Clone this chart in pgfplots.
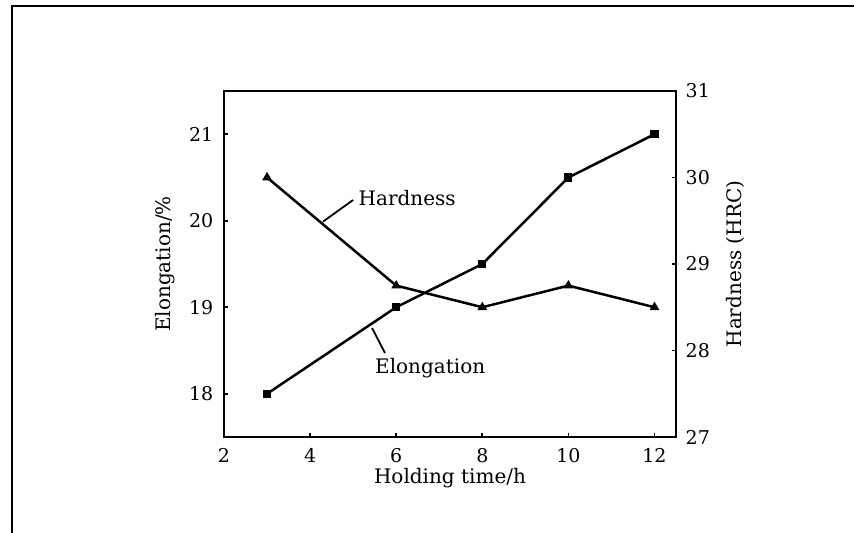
\documentclass[border=0pt]{standalone}
\usepackage{fontspec}
\setmainfont{DejaVu Serif}
\usepackage{pgfplots}
\pgfplotsset{compat=1.18}
\begin{document}
\begin{tikzpicture}
\useasboundingbox (0,0) rectangle (427pt,266.5pt);
\draw[line width=1pt] (6pt,0) -- (6pt,263.25pt) -- (427pt,263.25pt);
\pgfplotsset{common/.style={
  at={(112pt,48pt)}, anchor=south west, scale only axis,
  width=226pt, height=173pt,
  xmin=2, xmax=12.5,
  tick align=inside, major tick length=2.2pt,
  axis line style={line width=1pt},
  every tick/.style={line width=0.8pt, black},
  /pgf/number format/assume math mode=true,
  tick label style={font=\fontsize{9.5}{11}\selectfont},
  label style={font=\fontsize{10}{12}\selectfont},
}}
\begin{axis}[common,
  ymin=17.5, ymax=21.5,
  xtick={2,4,6,8,10,12}, ytick={18,19,20,21},
  xtick pos=bottom, ytick pos=left,
  xticklabel style={yshift=-2pt},
  yticklabel style={xshift=-1.8pt},
  xlabel={Holding time/h}, ylabel={Elongation/\%},
  xlabel style={at={(axis description cs:0.5,-0.1185)}, anchor=center},
  ylabel style={at={(axis description cs:-0.1305,0.5)}, anchor=center},
]
\addplot[black, line width=1.25pt, mark=square*, mark size=1.8pt, mark options={line width=0.5pt}] coordinates {
  (3,18) (6,19) (8,19.5) (10,20.5) (12,21)};
\draw[line width=0.9pt] (axis cs:4.30,19.99) -- (axis cs:5.0,20.24);
\node[anchor=west, font=\fontsize{10}{12}\selectfont, inner sep=0pt] at (axis cs:5.12,20.26) {Hardness};
\draw[line width=0.9pt] (axis cs:5.44,18.76) -- (axis cs:5.74,18.47);
\node[anchor=center, font=\fontsize{10}{12}\selectfont, inner sep=0pt] at (axis cs:6.79,18.30) {Elongation};
\end{axis}
\begin{axis}[common,
  ymin=27, ymax=31,
  axis y line*=right, axis x line=none,
  ytick={27,28,29,30,31},
  yticklabel style={xshift=1.3pt},
  ylabel={Hardness (HRC)},
  ylabel style={at={(axis description cs:1.1305,0.5)}, anchor=center, rotate=0},
]
\addplot[black, line width=1.25pt, mark=triangle*, mark size=2.3pt, mark options={line width=0.5pt}] coordinates {
  (3,30) (6,28.75) (8,28.5) (10,28.75) (12,28.5)};
\end{axis}
\end{tikzpicture}
\end{document}
